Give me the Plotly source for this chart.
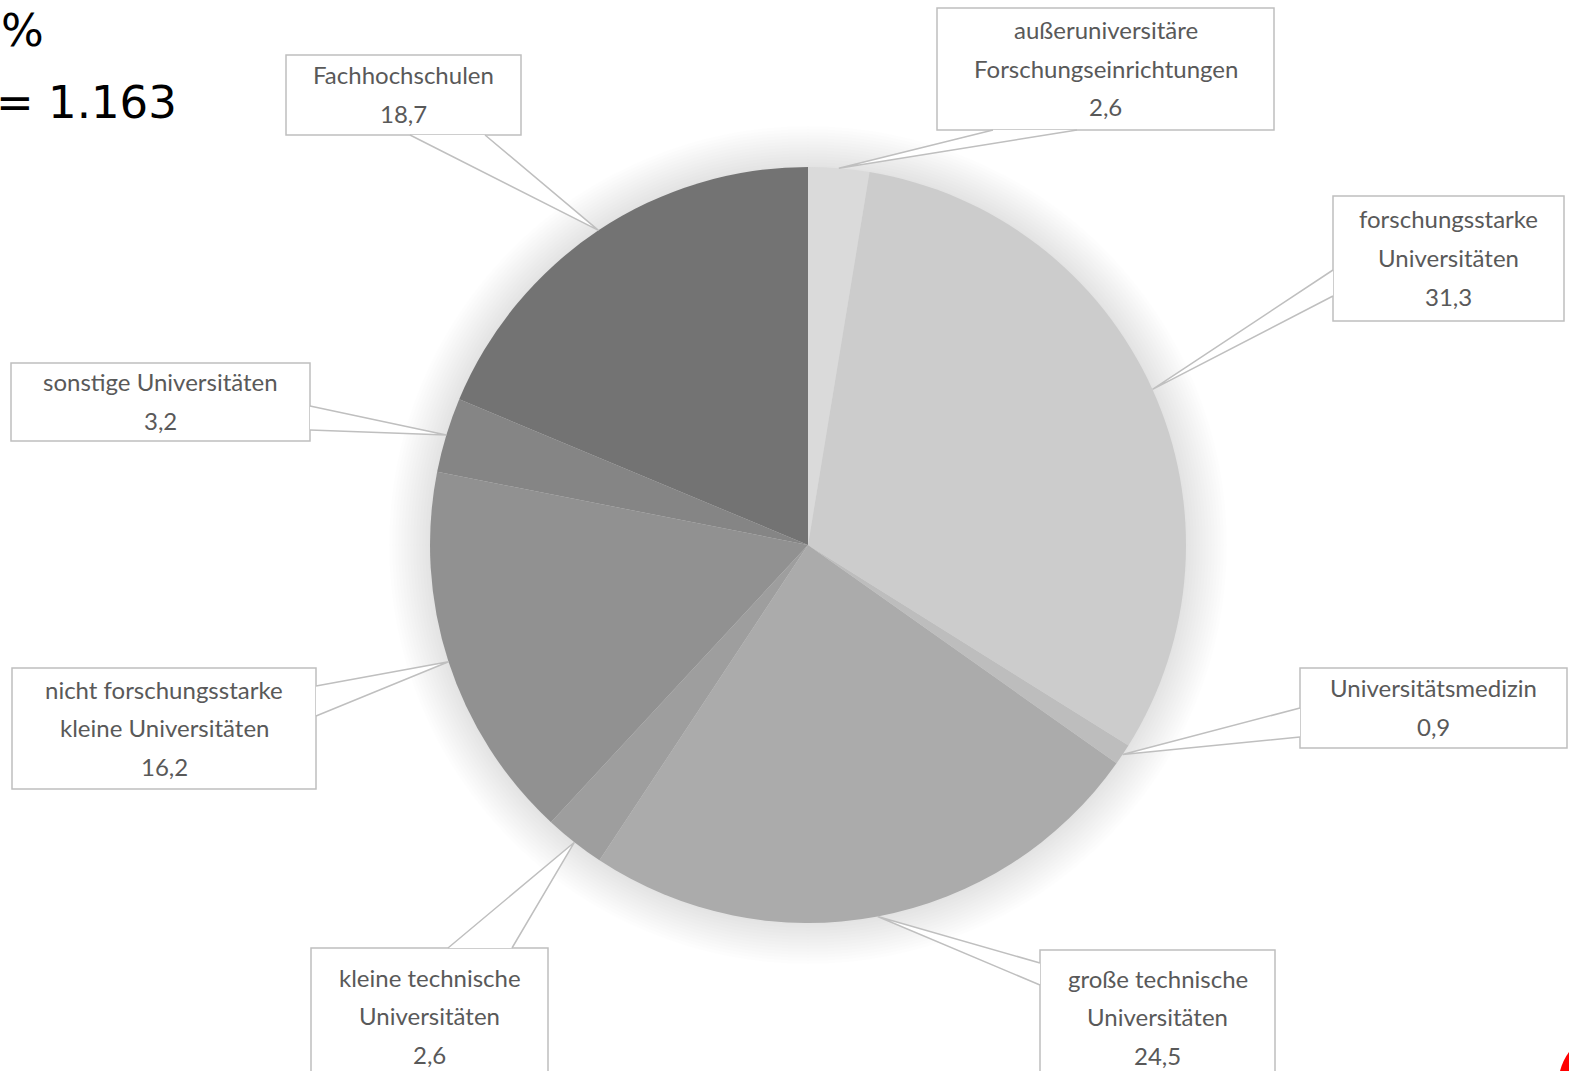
import plotly.graph_objects as go
import math

# Data
###########################################################################
labels = ['außeruniversitäre Forschungseinrichtungen', 'forschungsstarke Universitäten',
          'Universitätsmedizin', 'große technische Universitäten',
          'kleine technische Universitäten', 'nicht forschungsstarke kleine Universitäten',
          'sonstige Universitäten', 'Fachhochschulen']
values = [2.6, 31.3, 0.9, 24.5, 2.6, 16.2, 3.2, 18.7]
label_lines = [['außeruniversitäre', 'Forschungseinrichtungen'],
               ['forschungsstarke', 'Universitäten'],
               ['Universitätsmedizin'],
               ['große technische', 'Universitäten'],
               ['kleine technische', 'Universitäten'],
               ['nicht forschungsstarke', 'kleine Universitäten'],
               ['sonstige Universitäten'],
               ['Fachhochschulen']]
colors = ['#dadada', '#cccccc', '#bdbdbd', '#ababab', '#9e9e9e', '#919191', '#858585', '#737373']
header_lines = ['%', '= 1.163']

# Layout (pixels)
###########################################################################
W, H = 1569, 1071
CX, CY, R = 808, 545, 378
# callout boxes: x0, y0, x1, y1
boxes = [(937, 8, 1274, 130), (1333, 196, 1564, 321), (1300, 668, 1567, 748),
         (1040, 950, 1275, 1085), (311, 948, 548, 1085), (12, 668, 316, 789),
         (11, 363, 310, 441), (286, 55, 521, 135)]
# pointer base points on the box edge
bases = [((993, 130), (1077, 130)), ((1333, 270), (1333, 296)), ((1300, 708), (1300, 737)),
         ((1040, 963), (1040, 985)), ((448, 948), (512, 948)), ((316, 686), (316, 716)),
         ((310, 406), (310, 430)), ((410, 135), (485, 135))]
line_gap = 38.5

def px(x):
    return x / W

def py(y):
    return 1 - y / H

fig = go.Figure()
fig.add_trace(go.Pie(labels=labels, values=values, sort=False, direction='clockwise', rotation=0,
                     marker=dict(colors=colors, line=dict(width=0)), textinfo='none',
                     hoverinfo='label+value', showlegend=False,
                     domain=dict(x=[px(CX - R), px(CX + R)], y=[py(CY + R), py(CY - R)])))

shapes = []
# soft glow around the pie
for k in range(14):
    r = R + 2 + k * 3
    shapes.append(dict(type='circle', xref='paper', yref='paper', layer='below',
                       x0=px(CX - r), x1=px(CX + r), y0=py(CY + r), y1=py(CY - r),
                       line=dict(width=0), fillcolor='rgba(0,0,0,0.009)'))

annotations = []
total = sum(values)
cum = 0
for i, v in enumerate(values):
    mid = (cum + v / 2) / total * 2 * math.pi
    cum += v
    tx = CX + R * math.sin(mid)
    ty = CY - R * math.cos(mid)
    x0, y0, x1, y1 = boxes[i]
    shapes.append(dict(type='rect', xref='paper', yref='paper', x0=px(x0), x1=px(x1), y0=py(y1), y1=py(y0),
                       line=dict(color='#bfbfbf', width=1.5), fillcolor='white', layer='above'))
    (bx1, by1), (bx2, by2) = bases[i]
    shapes.append(dict(type='path', xref='paper', yref='paper', layer='above',
                       path=f'M {px(bx1)},{py(by1)} L {px(tx)},{py(ty)} L {px(bx2)},{py(by2)} Z',
                       line=dict(width=0), fillcolor='white'))
    shapes.append(dict(type='path', xref='paper', yref='paper', layer='above',
                       path=f'M {px(bx1)},{py(by1)} L {px(tx)},{py(ty)} L {px(bx2)},{py(by2)}',
                       line=dict(color='#bfbfbf', width=1.5)))
    lines = label_lines[i] + [f'{v:.1f}'.replace('.', ',')]
    top = (y0 + y1) / 2 - (len(lines) - 1) * line_gap / 2
    for j, t in enumerate(lines):
        annotations.append(dict(text=t, xref='paper', yref='paper', x=px((x0 + x1) / 2),
                                y=py(top + j * line_gap - 1), xanchor='center', yanchor='middle',
                                showarrow=False, font=dict(family='Lato', size=24, color='#595959')))

annotations.append(dict(text=header_lines[0], xref='paper', yref='paper', x=px(46), y=py(30),
                        xanchor='right', yanchor='middle', showarrow=False,
                        font=dict(family='DejaVu Sans', size=45, color='black')))
annotations.append(dict(text=header_lines[1], xref='paper', yref='paper', x=px(179), y=py(102),
                        xanchor='right', yanchor='middle', showarrow=False,
                        font=dict(family='DejaVu Sans', size=45, color='black')))

# red corner mark
shapes.append(dict(type='path', xref='paper', yref='paper', layer='above',
                   path=f'M {px(1569)},{py(1052)} Q {px(1563)},{py(1060)} {px(1560)},{py(1071)} L {px(1569)},{py(1071)} Z',
                   line=dict(width=0), fillcolor='#ff0000'))

fig.update_layout(width=W, height=H, margin=dict(l=0, r=0, t=0, b=0),
                  paper_bgcolor='white', plot_bgcolor='white',
                  shapes=shapes, annotations=annotations)

fig.write_html("out.html", config={'displayModeBar': False},
               post_script="document.body.style.margin='0';")
